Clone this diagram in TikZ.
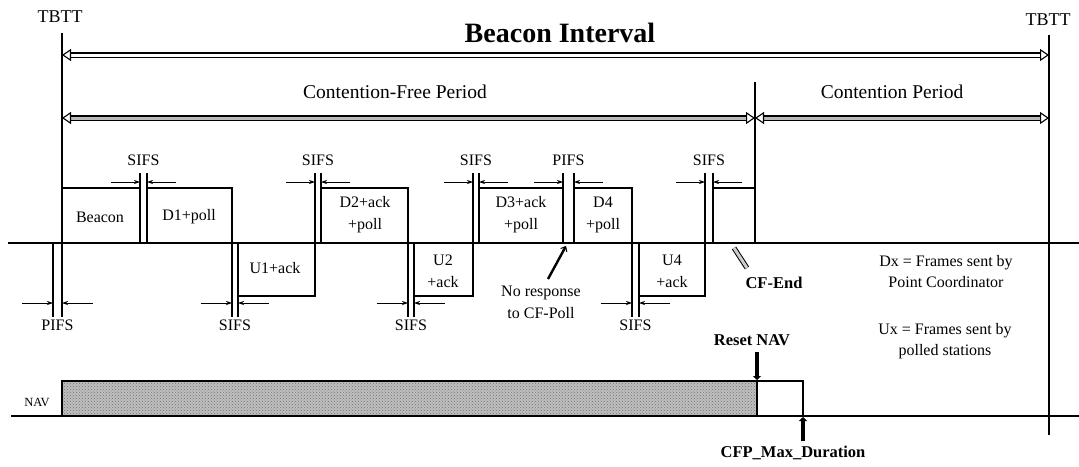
\documentclass[tikz,border=0pt]{standalone}
\usepackage{fontspec}
\setmainfont{Liberation Serif}
\usetikzlibrary{arrows.meta,patterns,positioning}

\begin{document}
\begin{tikzpicture}[x=1pt, y=-1pt,
  frame/.style={line width=1.2pt},
  lbl/.style={inner sep=0pt, align=center, font=\fontsize{16}{22}\selectfont},
  boldlbl/.style={inner sep=0pt, align=center, font=\bfseries\fontsize{16.5}{18}\selectfont},
  period/.style={line width=1.1pt, double=white, double distance=3pt,
    {Triangle[open,length=9pt,width=12pt]}-{Triangle[open,length=9pt,width=12pt]}},
  gaparrow/.style={line width=0.7pt, -{Stealth[length=6pt,width=4pt]}},
  pointer/.style={line width=3.2pt}
]
\useasboundingbox (0,0) rectangle (1079,466);

% TBTT marks and the time lines
\node[lbl, font=\fontsize{18}{20}\selectfont] (tbttl) at (60,17) {TBTT};
\node[lbl, font=\fontsize{18}{20}\selectfont] (tbttr) at (1048,20) {TBTT};
\draw[frame] (62,33) -- (62,317);
\draw[frame] (1049,35) -- (1049,435);
\draw[frame] (8,243) -- (1079,243);
\draw[frame] (755,82) -- (755,243);

% Beacon interval and the two periods
\node[lbl, font=\bfseries\fontsize{28}{30}\selectfont] (bint) at (560,33) {Beacon Interval};
\coordinate (bil) at (62,55);
\coordinate (bir) at (1049,55);
\draw[period] (bil) -- (bir);
\node[lbl, font=\fontsize{19.5}{22}\selectfont] (cfp) at (395,92) {Contention-Free Period};
\node[lbl, font=\fontsize{19.5}{22}\selectfont] (cp) at (892,92) {Contention Period};
\coordinate (cfpl) at (62,118);
\coordinate (cfpr) at (755,118);
\coordinate (cpr) at (1049,118);
\draw[period, double=gray!55] (cfpl) -- (cfpr);
\draw[period, double=gray!55] (cfpr) -- (cpr);

% Interframe spaces above the time line
\foreach \a/\b/\txt [count=\i] in {140/147/SIFS, 315/321/SIFS, 473/479/SIFS, 563/574/PIFS, 705/713/SIFS} {
  \draw[frame] (\a,243) -- (\a,173) (\b,243) -- (\b,173);
  \coordinate (ua\i) at (\a,182);
  \coordinate (ub\i) at (\b,182);
  \coordinate (ual\i) at (\a-29,182);
  \coordinate (ubr\i) at (\b+29,182);
  \draw[gaparrow] (ual\i) -- (ua\i);
  \draw[gaparrow] (ubr\i) -- (ub\i);
  \node[lbl] (ifsup\i) at ({(\a+\b)/2},160) {\txt};
}

% Interframe spaces below the time line
\foreach \a/\b/\txt [count=\i] in {53/62/PIFS, 232/238/SIFS, 408/414/SIFS, 632/639/SIFS} {
  \draw[frame] (\a,243) -- (\a,317) (\b,243) -- (\b,317);
  \coordinate (da\i) at (\a,303);
  \coordinate (db\i) at (\b,303);
  \coordinate (dal\i) at (\a-31,303);
  \coordinate (dbr\i) at (\b+31,303);
  \draw[gaparrow] (dal\i) -- (da\i);
  \draw[gaparrow] (dbr\i) -- (db\i);
  \node[lbl] (ifsdn\i) at ({(\a+\b)/2},325) {\txt};
}

% Frames from the point coordinator
\draw[frame] (62,188) -- (140,188);
\node[lbl] (beacon) at (100,217) {Beacon};
\draw[frame] (147,188) -- (232,188) -- (232,243);
\node[lbl] (d1) at (189,217) {D1+poll};
\draw[frame] (321,188) -- (408,188) -- (408,243);
\node[lbl] (d2) at (365,215) {D2+ack\\+poll};
\draw[frame] (479,188) -- (563,188);
\node[lbl] (d3) at (521,215) {D3+ack\\+poll};
\draw[frame] (574,188) -- (632,188) -- (632,243);
\node[lbl] (d4) at (603,215) {D4\\+poll};
\draw[frame] (713,188) -- (755,188);

% Frames from the polled stations
\draw[frame] (238,296) -- (315,296) -- (315,243);
\node[lbl] (u1) at (275,268) {U1+ack};
\draw[frame] (414,296) -- (473,296) -- (473,243);
\node[lbl] (u2) at (443,271) {U2\\+ack};
\draw[frame] (639,296) -- (705,296) -- (705,243);
\node[lbl] (u4) at (672,271) {U4\\+ack};

% No response and CF-End
\node[lbl] (noresp) at (541,302) {No response\\to CF-Poll};
\coordinate (nrtail) at (548,279);
\coordinate (nrtip) at (566,246);
\draw[line width=2.4pt, -{Straight Barb[length=4pt,width=7pt,line width=1pt]}] (nrtail) -- (nrtip);
\node[boldlbl] (cfend) at (774,283) {CF-End};
\coordinate (cetail) at (747,268);
\coordinate (cetip) at (734,248);
\draw[line width=1pt, double=gray!40, double distance=3pt] (cetail) -- (cetip);

% Legend
\node[lbl, font=\fontsize{16}{21}\selectfont] (legd) at (946,272) {Dx = Frames sent by\\Point Coordinator};
\node[lbl, font=\fontsize{16}{21}\selectfont] (legu) at (945,341) {Ux = Frames sent by\\polled stations};

% NAV
\node[lbl, font=\fontsize{12.5}{14}\selectfont] (nav) at (37,402) {NAV};
\draw[frame] (11,416) -- (1079,416);
\draw[frame, preaction={fill=gray!50}, pattern=crosshatch dots, pattern color=black!55] (62,416) rectangle (757,381);
\draw[frame] (757,381) -- (803,381) -- (803,416);
\node[boldlbl] (reset) at (752,340) {Reset NAV};
\coordinate (resettop) at (757,352);
\coordinate (resettip) at (757,380);
\draw[pointer, -{Triangle[length=4pt,width=8pt]}] (resettop) -- (resettip);
\node[boldlbl] (cfpmax) at (793,453) {CFP\_Max\_Duration};
\coordinate (cfpmaxbot) at (803,441);
\coordinate (cfpmaxtip) at (803,417);
\draw[pointer, -{Triangle[length=4pt,width=8pt]}] (cfpmaxbot) -- (cfpmaxtip);

\end{tikzpicture}
\end{document}
